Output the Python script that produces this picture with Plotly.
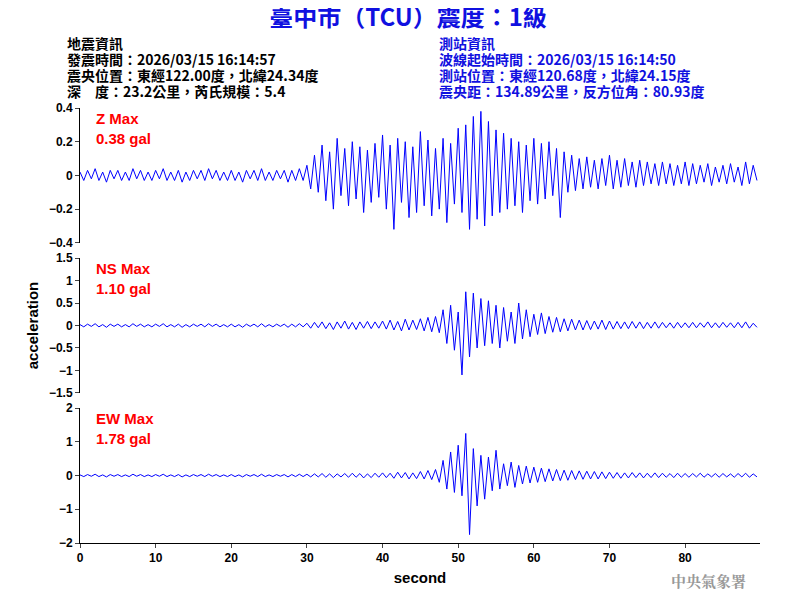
import numpy as np
import plotly.graph_objects as go
from plotly.subplots import make_subplots

# samples every 0.5 s
quiet = [0.02,-0.03,0.03,-0.02,0.04,-0.03,0.02,-0.04,0.03,-0.02,0.03,-0.03,0.02,-0.03,0.04,-0.02,0.03,-0.03,0.02,-0.03,
         0.03,-0.02,0.04,-0.03,0.02,-0.03,0.03,-0.04,0.02,-0.03,0.03,-0.02,0.03,-0.03,0.04,-0.02,0.03,-0.03,0.02,-0.03,
         0.03,-0.03,0.02,-0.04,0.03,-0.02,0.03,-0.03,0.04,-0.03,0.02,-0.03,0.03,-0.02,0.03,-0.04,0.03,-0.03,0.04,-0.03]
z_wave = quiet + [
    0.06,-0.08,0.12,-0.10,0.18,-0.15,0.14,-0.20,0.22,-0.12,0.16,-0.18,0.20,-0.14,0.17,-0.22,0.15,-0.16,0.19,-0.13,
    0.24,-0.20,0.18,-0.32,0.22,-0.16,0.20,-0.25,0.17,-0.22,0.26,-0.18,0.21,-0.24,0.16,-0.20,0.22,-0.28,0.19,-0.17,
    0.28,-0.22,0.30,-0.32,0.35,-0.26,0.38,-0.30,0.32,-0.24,0.27,-0.22,0.25,-0.20,0.22,-0.18,0.20,-0.22,0.18,-0.15,
    0.22,-0.17,0.19,-0.14,0.20,-0.12,0.16,-0.25,0.14,-0.10,0.12,-0.09,0.10,-0.08,0.11,-0.07,0.09,-0.08,0.10,-0.06,
    0.12,-0.08,0.09,-0.07,0.10,-0.06,0.08,-0.07,0.09,-0.06,0.08,-0.05,0.07,-0.06,0.08,-0.05,0.07,-0.06,0.06,-0.05,
    0.08,-0.06,0.07,-0.05,0.06,-0.04,0.07,-0.06,0.05,-0.04,0.06,-0.05,0.07,-0.04,0.05,-0.06,0.08,-0.05,0.06,-0.03]
ns_wave = quiet + [
    0.05,-0.06,0.07,-0.05,0.08,-0.07,0.06,-0.09,0.08,-0.06,0.10,-0.08,0.07,-0.09,0.08,-0.06,0.09,-0.07,0.08,-0.06,
    0.10,-0.08,0.12,-0.10,0.09,-0.12,0.14,-0.10,0.12,-0.09,0.15,-0.12,0.18,-0.14,0.20,-0.16,0.35,-0.40,0.45,-0.55,
    0.30,-1.10,0.75,-0.70,0.72,-0.50,0.60,-0.45,0.55,-0.40,0.45,-0.50,0.40,-0.35,0.30,-0.40,0.50,-0.30,0.35,-0.25,
    0.25,-0.20,0.28,-0.18,0.20,-0.15,0.18,-0.14,0.15,-0.12,0.14,-0.10,0.12,-0.10,0.11,-0.09,0.10,-0.08,0.12,-0.09,
    0.10,-0.08,0.09,-0.07,0.08,-0.07,0.09,-0.06,0.08,-0.07,0.07,-0.06,0.08,-0.06,0.07,-0.05,0.06,-0.06,0.07,-0.05,
    0.06,-0.05,0.07,-0.05,0.06,-0.04,0.08,-0.05,0.06,-0.05,0.07,-0.04,0.06,-0.05,0.07,-0.05,0.08,-0.06,0.05,-0.04]
ew_wave = quiet + [
    0.04,-0.04,0.05,-0.04,0.06,-0.05,0.05,-0.06,0.05,-0.04,0.06,-0.05,0.07,-0.05,0.06,-0.07,0.05,-0.06,0.07,-0.05,
    0.08,-0.06,0.07,-0.08,0.10,-0.07,0.09,-0.10,0.08,-0.09,0.12,-0.10,0.15,-0.12,0.18,-0.20,0.45,-0.40,0.70,-0.50,
    0.90,-0.60,1.25,-1.75,0.80,-0.90,0.60,-0.70,0.55,-0.45,0.75,-0.40,0.35,-0.30,0.40,-0.35,0.30,-0.25,0.28,-0.22,
    0.25,-0.20,0.22,-0.18,0.20,-0.16,0.18,-0.15,0.16,-0.14,0.15,-0.12,0.14,-0.11,0.13,-0.10,0.12,-0.10,0.11,-0.09,
    0.10,-0.08,0.09,-0.08,0.08,-0.07,0.09,-0.06,0.08,-0.07,0.07,-0.06,0.08,-0.06,0.07,-0.05,0.06,-0.06,0.07,-0.05,
    0.06,-0.05,0.06,-0.04,0.07,-0.05,0.05,-0.04,0.06,-0.05,0.06,-0.04,0.05,-0.05,0.06,-0.04,0.07,-0.05,0.05,-0.04]
t = np.arange(len(z_wave)) * 0.5

names = ["Z Max", "NS Max", "EW Max"]
peaks = ["0.38 gal", "1.10 gal", "1.78 gal"]
yranges = [[-0.4, 0.4], [-1.5, 1.5], [-2, 2]]
ydticks = [0.2, 0.5, 1]

left_lines = ["地震資訊", "發震時間：2026/03/15 16:14:57", "震央位置：東經122.00度，北緯24.34度",
              "深　度：23.2公里，芮氏規模：5.4"]
right_lines = ["測站資訊", "波線起始時間：2026/03/15 16:14:50", "測站位置：東經120.68度，北緯24.15度",
               "震央距：134.89公里，反方位角：80.93度"]

font = "Liberation Sans, Arial"
tickfont = dict(family=font, size=12, color="black", weight="bold")
fig = make_subplots(rows=3, cols=1, shared_xaxes=True, vertical_spacing=0.035)
for i, w in enumerate([z_wave, ns_wave, ew_wave]):
    fig.add_trace(go.Scatter(x=t, y=w, mode="lines", line=dict(color="blue", width=1),
                             showlegend=False), row=i + 1, col=1)
    fig.update_yaxes(range=yranges[i], dtick=ydticks[i], showline=True, linecolor="black",
                     ticks="outside", ticklen=4, showgrid=False, zeroline=False, automargin=False,
                     tickfont=tickfont, row=i + 1, col=1)
    fig.update_xaxes(range=[0, 89.9], showgrid=False, zeroline=False, automargin=False, row=i + 1, col=1)
    yref = "y domain" if i == 0 else "y%d domain" % (i + 1)
    fig.add_annotation(x=0.02, y=1.0, xref="x domain", yref=yref, xanchor="left", yanchor="top",
                       showarrow=False, align="left",
                       text="%s<br>%s" % (names[i], peaks[i]),
                       font=dict(family=font, size=15, color="red", weight="bold"))

fig.update_xaxes(showline=True, linecolor="black", ticks="outside", ticklen=4, dtick=10,
                 tickfont=tickfont,
                 title=dict(text="second", font=dict(family=font, size=15, color="black", weight="bold"),
                            standoff=8),
                 row=3, col=1)
fig.update_yaxes(title=dict(text="acceleration", font=dict(family=font, size=15, color="black", weight="bold"),
                            standoff=6), row=2, col=1)

fig.update_layout(
    width=800, height=600, plot_bgcolor="white", paper_bgcolor="white",
    margin=dict(l=72, r=48, t=100, b=65),
    title=dict(text="臺中市（TCU）震度：1級", x=0.5, y=0.998, yanchor="top", xanchor="center",
               font=dict(family="Noto Sans CJK TC", size=24, color="#1010e0", weight="bold")),
)
cjk = "Noto Sans CJK TC"
for k in range(4):
    yy = 1 + (65 - 16 * k) / 435
    fig.add_annotation(x=-15 / 680, y=yy, xref="paper", yref="paper", xanchor="left", yanchor="middle",
                       showarrow=False, text=left_lines[k],
                       font=dict(family=cjk, size=14, color="black", weight="bold"))
    fig.add_annotation(x=357 / 680, y=yy, xref="paper", yref="paper", xanchor="left", yanchor="middle",
                       showarrow=False, text=right_lines[k],
                       font=dict(family=cjk, size=14, color="#1010e0", weight="bold"))
fig.add_annotation(x=1 - 12 / 680, y=-37 / 435, xref="paper", yref="paper", xanchor="right", yanchor="middle",
                   showarrow=False, text="中央氣象署",
                   font=dict(family="Noto Serif CJK TC, Noto Sans CJK TC", size=15, color="#999999",
                             weight="bold"))
fig.write_html("out.html")
